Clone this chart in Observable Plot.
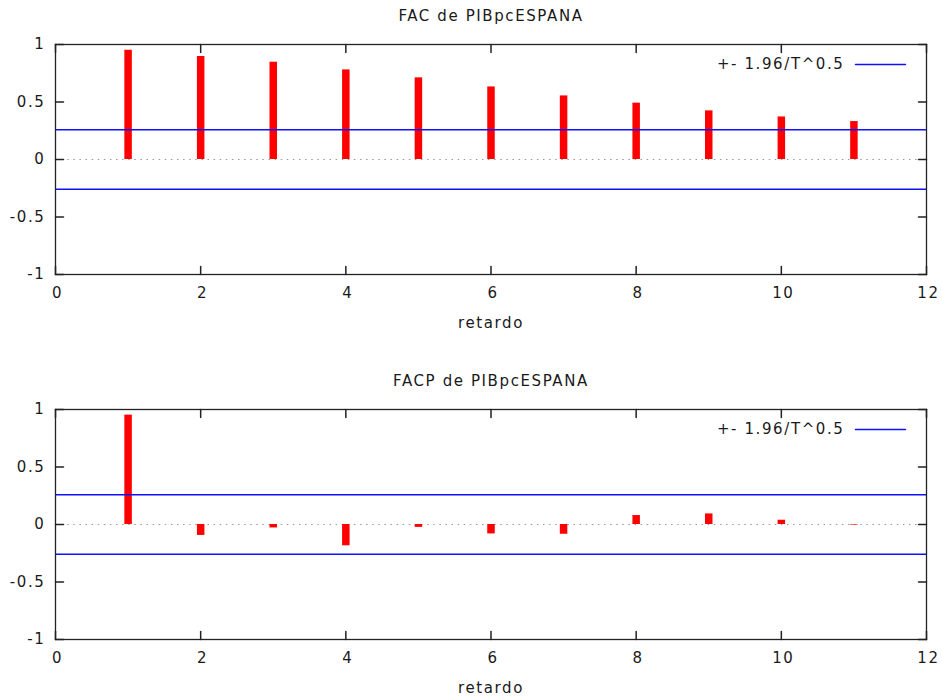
<!DOCTYPE html>
<html>
<head>
<meta charset="utf-8">
<script src="https://cdn.jsdelivr.net/npm/d3@7"></script>
<script src="https://cdn.jsdelivr.net/npm/@observablehq/plot@0.6"></script>
<style>
  html, body { margin: 0; padding: 0; background: #fff; }
  #wrap { position: relative; width: 942px; height: 697px; overflow: hidden; }
  .panel { position: absolute; left: 0; }
  svg text { letter-spacing: 1.6px; }
</style>
</head>
<body>
<div id="wrap"></div>
<script>
const lags = [1, 2, 3, 4, 5, 6, 7, 8, 9, 10, 11];
const fac  = [0.95, 0.895, 0.846, 0.779, 0.71, 0.631, 0.553, 0.49, 0.423, 0.37, 0.33];
const facp = [0.951, -0.095, -0.03, -0.185, -0.025, -0.082, -0.085, 0.078, 0.092, 0.037, -0.005];
const titles = ["FAC de PIBpcESPANA", "FACP de PIBpcESPANA"];
const xTicks = [0, 2, 4, 6, 8, 10, 12];
const yTicks = [-1, -0.5, 0, 0.5, 1];
const band = 0.258;
const legendLabel = "+- 1.96/T^0.5";
const xLabel = "retardo";

const tickShape = {draw(context, l) { context.moveTo(0, 0); context.lineTo(0, -l); }};
const FONT = "DejaVu Sans, Verdana, sans-serif";

function panel(title, values) {
  const data = lags.map((lag, i) => ({lag, value: values[i]}));
  return Plot.plot({
    width: 942,
    height: 332,
    marginTop: 44,
    marginBottom: 58,
    marginLeft: 55,
    marginRight: 16,
    style: {fontFamily: FONT, fontSize: "15px", color: "#1a1a1a", background: "#fff"},
    x: {domain: [0, 12]},
    y: {domain: [-1, 1]},
    marks: [
      Plot.ruleY([0], {stroke: "#999", strokeWidth: 1.2, strokeDasharray: "1.5,4.6"}),
      Plot.ruleX(data, {x: "lag", y1: 0, y2: "value", stroke: "#ff0000", strokeWidth: 7.5}),
      Plot.ruleY([-band, band], {stroke: "#1010ff", strokeWidth: 1.5}),
      Plot.frame({stroke: "#222", strokeWidth: 1.3}),
      // inward ticks
      Plot.vector(xTicks, {x: d => d, frameAnchor: "bottom", rotate: 0, length: 8, anchor: "start", shape: tickShape, stroke: "#222"}),
      Plot.vector(xTicks, {x: d => d, frameAnchor: "top", rotate: 180, length: 8, anchor: "start", shape: tickShape, stroke: "#222"}),
      Plot.vector(yTicks, {y: d => d, frameAnchor: "left", rotate: 90, length: 8, anchor: "start", shape: tickShape, stroke: "#222"}),
      Plot.vector(yTicks, {y: d => d, frameAnchor: "right", rotate: 270, length: 8, anchor: "start", shape: tickShape, stroke: "#222"}),
      Plot.axisX({ticks: xTicks, tickSize: 0, tickPadding: 13, dx: 2, tickFormat: d => String(d), label: null, fontSize: 15}),
      Plot.axisY({ticks: yTicks, tickSize: 0, tickPadding: 10, tickFormat: d => String(d), label: null, fontSize: 15}),
      Plot.text([xLabel], {frameAnchor: "bottom", lineAnchor: "middle", dy: 49, fontSize: 15}),
      Plot.text([title], {frameAnchor: "top", lineAnchor: "middle", dy: -28, fontSize: 15}),
      Plot.text([legendLabel], {frameAnchor: "top-right", lineAnchor: "middle", textAnchor: "end", dx: -82, dy: 20, fontSize: 15}),
      Plot.vector([0], {frameAnchor: "top-right", dx: -21, dy: 20, rotate: 270, length: 50, anchor: "start", shape: tickShape, stroke: "#1010ff", strokeWidth: 1.5})
    ]
  });
}

const wrap = document.getElementById("wrap");
[fac, facp].forEach((vals, i) => {
  const p = panel(titles[i], vals);
  p.classList.add("panel");
  p.style.top = (i * 365) + "px";
  wrap.appendChild(p);
});
</script>
</body>
</html>
